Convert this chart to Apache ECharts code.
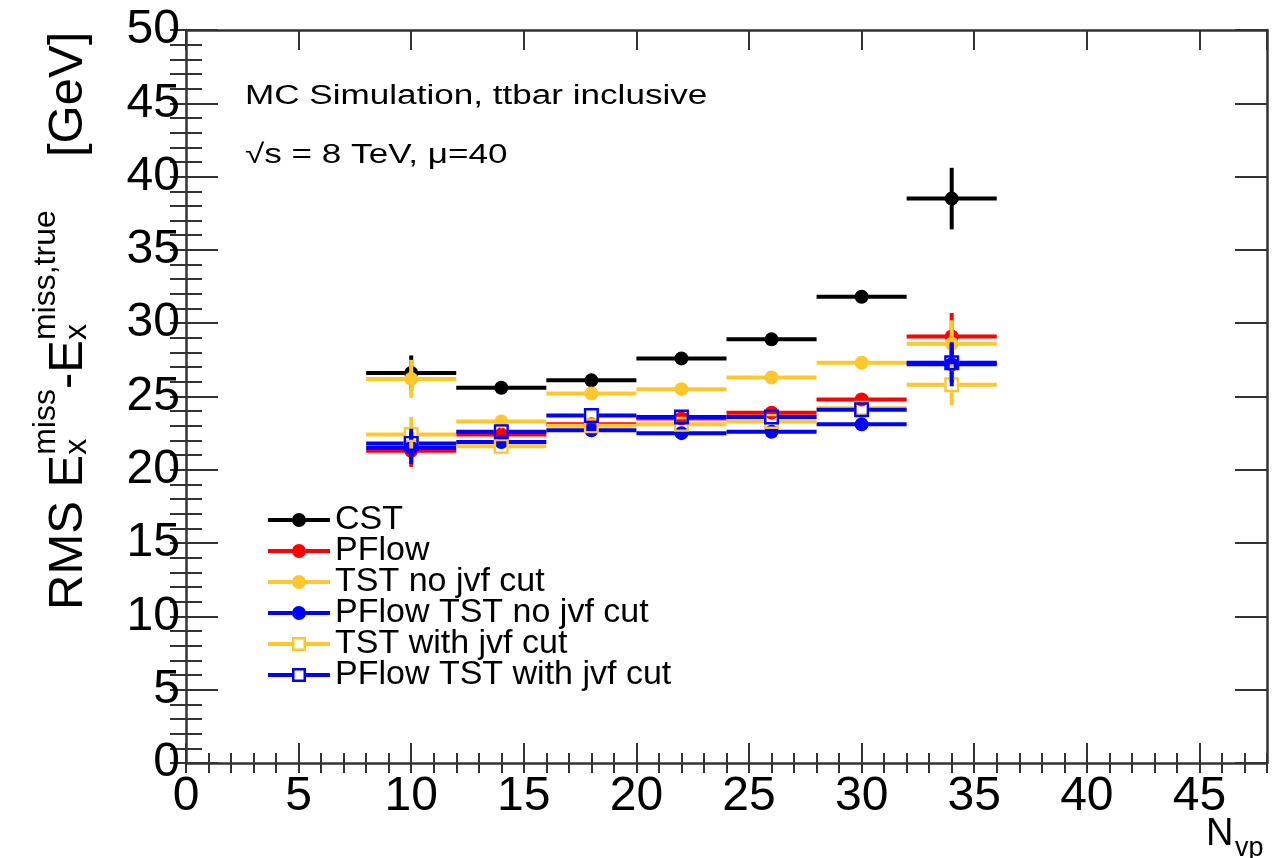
<!DOCTYPE html>
<html>
<head>
<meta charset="utf-8">
<script src="https://cdn.jsdelivr.net/npm/echarts@6/dist/echarts.min.js"></script>
<style>html,body{margin:0;padding:0;background:#fff}#c{width:1285px;height:858px}</style>
</head>
<body>
<div id="c"></div>
<script>
// ---- data ----
const nvp = [10, 14, 18, 22, 26, 30, 34];
const binLow = [8, 12, 16, 20, 24, 28, 32];
const binHigh = [12, 16, 20, 24, 28, 32, 36];
const cst = [26.6, 25.6, 26.1, 27.6, 28.9, 31.8, 38.5];
const cstErr = [1.2, 0.3, 0.3, 0.3, 0.3, 0.4, 2.1];
const pflow = [21.3, 22.4, 23.1, 23.5, 23.9, 24.8, 29.1];
const pflowErr = [1.1, 0.3, 0.3, 0.3, 0.3, 0.3, 1.6];
const tstNoJvf = [26.2, 23.3, 25.2, 25.5, 26.3, 27.3, 28.6];
const tstNoJvfErr = [1.3, 0.3, 0.3, 0.3, 0.3, 0.3, 1.6];
const pflowTstNoJvf = [21.5, 21.9, 22.7, 22.5, 22.6, 23.1, 27.2];
const pflowTstNoJvfErr = [1.1, 0.3, 0.3, 0.3, 0.3, 0.3, 1.5];
const tstJvf = [22.4, 21.6, 23.0, 23.1, 23.3, 24.2, 25.8];
const tstJvfErr = [1.2, 0.3, 0.3, 0.3, 0.3, 0.3, 1.4];
const pflowTstJvf = [21.8, 22.6, 23.7, 23.6, 23.6, 24.1, 27.3];
const pflowTstJvfErr = [1.0, 0.3, 0.3, 0.3, 0.3, 0.3, 1.3];
const seriesNames = ['CST', 'PFlow', 'TST no jvf cut', 'PFlow TST no jvf cut', 'TST with jvf cut', 'PFlow TST with jvf cut'];
const xTicks = [0, 5, 10, 15, 20, 25, 30, 35, 40, 45];

// ---- styling ----
const FONT = 'Liberation Sans';
const YELLOW = '#ffc72e';
const FRAME = '#333333';
const LW = 4;

function makeSeries(name, color, marker, vals, errs) {
  return {
    type: 'custom', name: name, xAxisIndex: 0, yAxisIndex: 0,
    itemStyle: { color: color },
    encode: { x: [0, 3, 4], y: [1] },
    data: nvp.map((x, i) => [x, vals[i], errs[i], binLow[i], binHigh[i]]),
    renderItem: function (params, api) {
      const x = api.value(0), y = api.value(1), e = api.value(2);
      const c = api.coord([x, y]);
      const l = api.coord([api.value(3), y]);
      const r = api.coord([api.value(4), y]);
      const t = api.coord([x, y + e]);
      const b = api.coord([x, y - e]);
      const ls = { stroke: color, lineWidth: LW };
      const children = [];
      if (marker === 'circle') {
        children.push({ type: 'line', shape: { x1: l[0], y1: l[1], x2: r[0], y2: r[1] }, style: ls });
        children.push({ type: 'line', shape: { x1: t[0], y1: t[1], x2: b[0], y2: b[1] }, style: ls });
        children.push({ type: 'circle', shape: { cx: c[0], cy: c[1], r: 7 }, style: { fill: color } });
      } else {
        const h = 7.5;
        children.push({ type: 'line', shape: { x1: l[0], y1: l[1], x2: c[0] - h, y2: c[1] }, style: ls });
        children.push({ type: 'line', shape: { x1: c[0] + h, y1: c[1], x2: r[0], y2: r[1] }, style: ls });
        if (t[1] < c[1] - h) children.push({ type: 'line', shape: { x1: c[0], y1: t[1], x2: c[0], y2: c[1] - h }, style: ls });
        if (b[1] > c[1] + h) children.push({ type: 'line', shape: { x1: c[0], y1: c[1] + h, x2: c[0], y2: b[1] }, style: ls });
        children.push({ type: 'rect', shape: { x: c[0] - h + 1.2, y: c[1] - h + 1.2, width: 2 * h - 2.4, height: 2 * h - 2.4 }, style: { fill: null, stroke: color, lineWidth: 2.4 } });
      }
      return { type: 'group', children: children };
    }
  };
}

const circIcon = 'path://M0,5H24.2V9H0Z M37.8,5H62V9H37.8Z M24,7A7,7 0 1,1 38,7A7,7 0 1,1 24,7Z';
const sqIcon = 'path://M0,5H24V9H0Z M38,5H62V9H38Z M24,0H38V14H24Z M26.5,2.5V11.5H35.5V2.5Z';

// measure text for title layout
const mctx = document.createElement('canvas').getContext('2d');
function tw(s, size) { mctx.font = size + 'px "' + FONT + '"'; return mctx.measureText(s).width; }

const F = 49, S = 32;
const titleParts = [];
let pos = 0;
function mainTxt(s) { titleParts.push({ s: s, x: pos, dy: 0, f: F }); pos += tw(s, F); }
function supSub(sup, sub) {
  titleParts.push({ s: sup, x: pos, dy: -28, f: S });
  titleParts.push({ s: sub, x: pos, dy: 3, f: S });
  pos += Math.max(tw(sup, S), tw(sub, S));
}
mainTxt('RMS E'); supSub('miss', 'x'); mainTxt('-'); mainTxt('E'); supSub('miss,true', 'x');
titleParts.push({ s: '[GeV]', x: 453, dy: 0, f: F });

const BASE = 0.33; // baseline offset from 'middle' as fraction of font size
const titleGroup = {
  type: 'group', x: 85, y: 610, rotation: Math.PI / 2,
  children: titleParts.map(p => ({
    type: 'text', x: p.x, y: p.dy - BASE * p.f,
    style: { text: p.s, font: p.f + 'px "' + FONT + '"', fill: '#000', align: 'left', verticalAlign: 'middle' }
  }))
};

const chart = echarts.init(document.getElementById('c'), null, { renderer: 'canvas' });

const gridPos = { left: 186, top: 30, right: 18, bottom: 95, containLabel: false };
const axLine = { show: true, onZero: false, lineStyle: { color: FRAME, width: 2.5 } };
const tickStyle = { color: FRAME, width: 2 };

const option = {
  backgroundColor: '#fff',
  animation: false,
  grid: [Object.assign({}, gridPos), Object.assign({}, gridPos)],
  xAxis: [
    { gridIndex: 0, type: 'value', position: 'bottom', min: 0, max: 48, interval: 5,
      axisLine: axLine, splitLine: { show: false },
      axisTick: { inside: true, length: 20, lineStyle: tickStyle },
      axisLabel: { show: true, fontFamily: FONT, fontSize: 48, color: '#000', margin: 10, showMaxLabel: false,
        formatter: v => (xTicks.indexOf(v) >= 0 ? String(v) : '') } },
    { gridIndex: 0, type: 'value', position: 'top', min: 0, max: 48, interval: 5,
      axisLine: axLine, splitLine: { show: false },
      axisTick: { inside: true, length: 20, lineStyle: tickStyle }, axisLabel: { show: false } },
    { gridIndex: 1, type: 'value', position: 'bottom', min: 0, max: 48, interval: 1,
      axisLine: { show: false }, splitLine: { show: false },
      axisTick: { inside: true, length: 10, lineStyle: tickStyle }, axisLabel: { show: false } },
    { gridIndex: 1, type: 'value', position: 'top', min: 0, max: 48, interval: 1,
      axisLine: { show: false }, splitLine: { show: false },
      axisTick: { inside: true, length: 10, lineStyle: tickStyle }, axisLabel: { show: false } }
  ],
  yAxis: [
    { gridIndex: 0, type: 'value', position: 'left', min: 0, max: 50, interval: 5,
      axisLine: axLine, splitLine: { show: false },
      axisTick: { inside: true, length: 32, lineStyle: tickStyle },
      axisLabel: { show: true, fontFamily: FONT, fontSize: 48, color: '#000', margin: 6 } },
    { gridIndex: 0, type: 'value', position: 'right', min: 0, max: 50, interval: 5,
      axisLine: axLine, splitLine: { show: false },
      axisTick: { inside: true, length: 32, lineStyle: tickStyle }, axisLabel: { show: false } },
    { gridIndex: 1, type: 'value', position: 'left', min: 0, max: 50, interval: 1,
      axisLine: { show: false }, splitLine: { show: false },
      axisTick: { inside: true, length: 16, lineStyle: tickStyle }, axisLabel: { show: false } },
    { gridIndex: 1, type: 'value', position: 'right', min: 0, max: 50, interval: 1,
      axisLine: { show: false }, splitLine: { show: false },
      axisTick: { inside: true, length: 16, lineStyle: tickStyle }, axisLabel: { show: false } }
  ],
  legend: {
    show: true, orient: 'vertical', left: 263, top: 498,
    itemWidth: 62, itemHeight: 14, itemGap: -3, selectedMode: false,
    textStyle: { fontFamily: FONT, fontSize: 34, color: '#000', lineHeight: 31 },
    itemStyle: { borderWidth: 0 },
    data: [
      { name: seriesNames[0], icon: circIcon },
      { name: seriesNames[1], icon: circIcon },
      { name: seriesNames[2], icon: circIcon },
      { name: seriesNames[3], icon: circIcon },
      { name: seriesNames[4], icon: sqIcon },
      { name: seriesNames[5], icon: sqIcon }
    ]
  },
  series: [
    makeSeries(seriesNames[0], '#000000', 'circle', cst, cstErr),
    makeSeries(seriesNames[1], '#ff0000', 'circle', pflow, pflowErr),
    makeSeries(seriesNames[2], YELLOW, 'circle', tstNoJvf, tstNoJvfErr),
    makeSeries(seriesNames[3], '#0000ff', 'circle', pflowTstNoJvf, pflowTstNoJvfErr),
    makeSeries(seriesNames[4], YELLOW, 'square', tstJvf, tstJvfErr),
    makeSeries(seriesNames[5], '#0000ff', 'square', pflowTstJvf, pflowTstJvfErr)
  ],
  graphic: [
    titleGroup,
    { type: 'text', x: 245, y: 97, scaleX: 1.3, originX: 0, originY: 0,
      style: { text: 'MC Simulation, ttbar inclusive', font: '27px "' + FONT + '"', fill: '#000', verticalAlign: 'middle' } },
    { type: 'text', x: 245, y: 156, scaleX: 1.3, originX: 0, originY: 0,
      style: { text: '√s = 8 TeV, μ=40', font: '27px "' + FONT + '"', fill: '#000', verticalAlign: 'middle' } },
    { type: 'text', x: 1206, y: 847 - 0.33 * 38,
      style: { text: 'N', font: '38px "' + FONT + '"', fill: '#000', verticalAlign: 'middle' } },
    { type: 'text', x: 1235, y: 857 - 0.33 * 27,
      style: { text: 'vp', font: '27px "' + FONT + '"', fill: '#000', verticalAlign: 'middle' } }
  ]
};
chart.setOption(option);
</script>
</body>
</html>
